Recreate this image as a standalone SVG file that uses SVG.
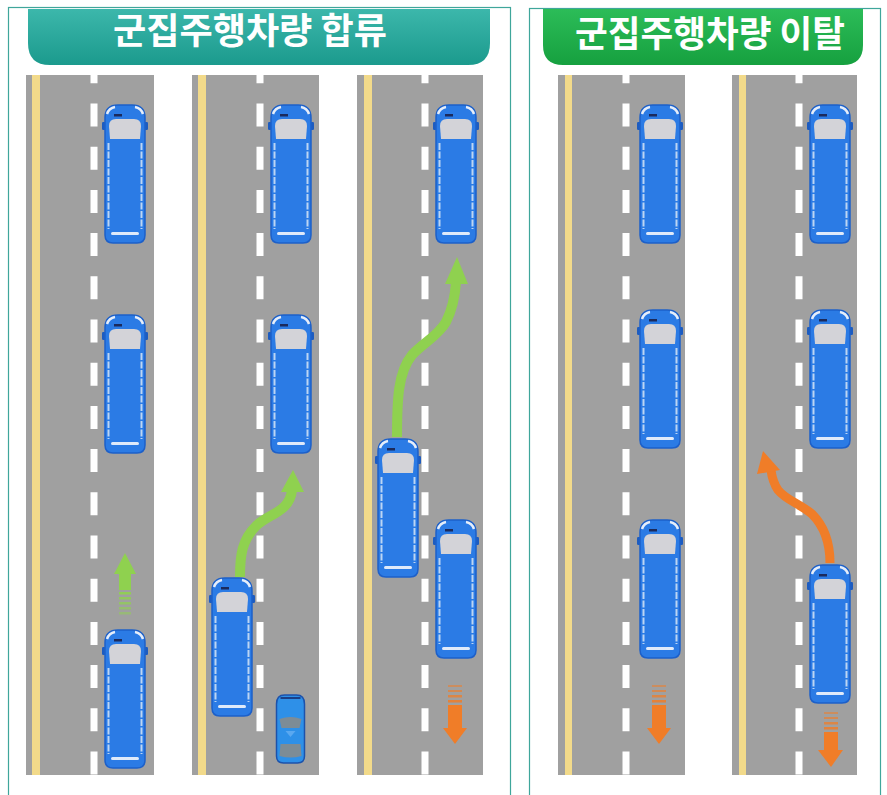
<svg xmlns="http://www.w3.org/2000/svg" xmlns:xlink="http://www.w3.org/1999/xlink" width="887" height="795" viewBox="0 0 887 795">
  <style>
    .frame { fill: none; stroke: #3fa69b; stroke-width: 1.2; }
    .road { fill: #a0a0a0; }
    .yellow { fill: #f2da8a; }
    .dash { stroke: #ffffff; stroke-width: 7; stroke-dasharray: 23 20.2; stroke-dashoffset: 14.7; }
    .title { font-family: "Noto Sans CJK KR", "Noto Sans", sans-serif; font-weight: bold; font-size: 36px; fill: #ffffff; text-anchor: middle; }
    .go { fill: none; stroke: #8fd14f; stroke-width: 10; stroke-linecap: butt; }
    .go-head { fill: #8fd14f; }
    .out { fill: none; stroke: #f07d28; stroke-width: 9; stroke-linecap: butt; }
    .out-head { fill: #f07d28; }
  </style>
  <defs>
    <linearGradient id="tealBanner" x1="0" y1="0" x2="0" y2="1">
      <stop offset="0" stop-color="#3cb7ab"/>
      <stop offset="1" stop-color="#1b9a8d"/>
    </linearGradient>
    <linearGradient id="greenBanner" x1="0" y1="0" x2="0" y2="1">
      <stop offset="0" stop-color="#2cbc58"/>
      <stop offset="1" stop-color="#16a03f"/>
    </linearGradient>
    <!-- bus seen from above, front at the top; origin = top centre -->
    <g id="bus">
      <rect x="-23" y="17" width="3.5" height="8" rx="1.2" fill="#1d5cc0"/>
      <rect x="19.5" y="17" width="3.5" height="8" rx="1.2" fill="#1d5cc0"/>
      <path d="M-20,13 Q-20,0 -7,0 L7,0 Q20,0 20,13 L20,130 Q20,138 12,138 L-12,138 Q-20,138 -20,130 Z" fill="#2b7be5" stroke="#1d60c9" stroke-width="1.5"/>
      <path d="M-18,9 Q-16,3 -10,2" fill="none" stroke="#e6eefa" stroke-width="2.5"/>
      <path d="M18,9 Q16,3 10,2" fill="none" stroke="#e6eefa" stroke-width="2.5"/>
      <rect x="-11" y="9" width="8" height="2.5" fill="#1b2a5c"/>
      <path d="M-16,21 Q-16,14 -9,14 L9,14 Q16,14 16,21 L15,34 L-15,34 Z" fill="#d3d3d8"/>
      <line x1="-16.5" y1="38" x2="-16.5" y2="124" stroke="#bcd5f4" stroke-width="2" stroke-dasharray="7 1.5"/>
      <line x1="16.5" y1="38" x2="16.5" y2="124" stroke="#bcd5f4" stroke-width="2" stroke-dasharray="7 1.5"/>
      <rect x="-14" y="127" width="28" height="3" rx="1.5" fill="#dfeafa"/>
    </g>
  </defs>

  <!-- panel frames -->
  <rect class="frame" x="8.5" y="7.5" width="502" height="800"/>
  <rect class="frame" x="529.5" y="8.5" width="351" height="800"/>

  <!-- title banners -->
  <g id="banner-merge">
    <path d="M28,9 L490,9 L490,43 Q490,65 468,65 L50,65 Q28,65 28,43 Z" fill="url(#tealBanner)"/>
    <text class="title" x="250" y="44" textLength="274" lengthAdjust="spacingAndGlyphs">군집주행차량 합류</text>
  </g>
  <g id="banner-leave">
    <path d="M543,9 L863,9 L863,45 Q863,65 843,65 L563,65 Q543,65 543,45 Z" fill="url(#greenBanner)"/>
    <text class="title" x="710" y="47" textLength="270" lengthAdjust="spacingAndGlyphs">군집주행차량 이탈</text>
  </g>

  <!-- roads -->
  <g id="roads">
    <rect class="road" x="26" y="75" width="128" height="700"/>
    <rect class="yellow" x="32" y="75" width="8" height="700"/>
    <line class="dash" x1="94" y1="75" x2="94" y2="775"/>

    <rect class="road" x="192" y="75" width="127" height="700"/>
    <rect class="yellow" x="198" y="75" width="8" height="700"/>
    <line class="dash" x1="260" y1="75" x2="260" y2="775"/>

    <rect class="road" x="357" y="75" width="126" height="700"/>
    <rect class="yellow" x="364" y="75" width="8" height="700"/>
    <line class="dash" x1="425" y1="75" x2="425" y2="775"/>

    <rect class="road" x="558" y="75" width="127" height="700"/>
    <rect class="yellow" x="565" y="75" width="7" height="700"/>
    <line class="dash" x1="626" y1="75" x2="626" y2="775"/>

    <rect class="road" x="732" y="75" width="125" height="700"/>
    <rect class="yellow" x="739" y="75" width="7" height="700"/>
    <line class="dash" x1="799" y1="75" x2="799" y2="775"/>
  </g>

  <!-- vehicles -->
  <g id="vehicles">
    <use xlink:href="#bus" x="125" y="105"/>
    <use xlink:href="#bus" x="125" y="315"/>
    <use xlink:href="#bus" x="125" y="630"/>

    <use xlink:href="#bus" x="291" y="105"/>
    <use xlink:href="#bus" x="291" y="315"/>
    <use xlink:href="#bus" x="232" y="578"/>

    <use xlink:href="#bus" x="456" y="105"/>
    <use xlink:href="#bus" x="398" y="439"/>
    <use xlink:href="#bus" x="456" y="520"/>

    <use xlink:href="#bus" x="660" y="105"/>
    <use xlink:href="#bus" x="660" y="310"/>
    <use xlink:href="#bus" x="660" y="520"/>

    <use xlink:href="#bus" x="830" y="105"/>
    <use xlink:href="#bus" x="830" y="310"/>
    <use xlink:href="#bus" x="830" y="565"/>

    <!-- passenger car joining the platoon -->
    <g id="car" transform="translate(290.5,695)">
      <path d="M-14,9 Q-14,0 -6,0 L6,0 Q14,0 14,9 L14,61 Q14,68 7,68 L-7,68 Q-14,68 -14,61 Z" fill="#2e90e8" stroke="#1c52ab" stroke-width="1.5"/>
      <path d="M-10,3 L10,3" stroke="#1c3f86" stroke-width="2"/>
      <path d="M-11,24 Q0,20 11,24 L9,33 L-9,33 Z" fill="#7d8c96"/>
      <path d="M-5,36 L5,36 L0,42 Z" fill="#5aa8f0"/>
      <path d="M-10,49 L10,49 L11,61 Q0,64 -11,61 Z" fill="#7d8c96"/>
    </g>
  </g>

  <!-- connectors: movement arrows -->
  <g id="connectors">
    <!-- platoon moving forward -->
    <g id="arrow-forward">
      <rect class="go-head" x="119" y="572" width="12" height="18"/>
      <polygon class="go-head" points="114,574 125,553 136,574"/>
      <rect class="go-head" x="119" y="592" width="12" height="2.5" opacity="0.9"/>
      <rect class="go-head" x="119" y="597" width="12" height="2.5" opacity="0.8"/>
      <rect class="go-head" x="119" y="602" width="12" height="2.5" opacity="0.7"/>
      <rect class="go-head" x="119" y="607" width="12" height="2.5" opacity="0.6"/>
      <rect class="go-head" x="119" y="612" width="12" height="2.5" opacity="0.5"/>
    </g>

    <!-- lane change into the platoon -->
    <path class="go" d="M240,577 C240,555 242,540 256,526 C268,514 290,512 292,490"/>
    <polygon class="go-head" points="281,492 293,470 304,492"/>

    <path class="go" d="M397,437 C397,400 398,372 412,355 C424,342 438,336 446,322 C452,310 455,298 456,282"/>
    <polygon class="go-head" points="445,284 457,257 468,284"/>

    <!-- vehicles falling back -->
    <g id="arrow-back-3">
      <rect class="out-head" x="448" y="685" width="14" height="2" opacity="0.55"/>
      <rect class="out-head" x="448" y="690" width="14" height="2" opacity="0.65"/>
      <rect class="out-head" x="448" y="695" width="14" height="2.5" opacity="0.75"/>
      <rect class="out-head" x="448" y="700" width="14" height="2.5" opacity="0.85"/>
      <rect class="out-head" x="448" y="705" width="14" height="25"/>
      <polygon class="out-head" points="443,728 467,728 455,744"/>
    </g>
    <g id="arrow-back-4">
      <rect class="out-head" x="652" y="685" width="14" height="2" opacity="0.55"/>
      <rect class="out-head" x="652" y="690" width="14" height="2" opacity="0.65"/>
      <rect class="out-head" x="652" y="695" width="14" height="2.5" opacity="0.75"/>
      <rect class="out-head" x="652" y="700" width="14" height="2.5" opacity="0.85"/>
      <rect class="out-head" x="652" y="705" width="14" height="25"/>
      <polygon class="out-head" points="647,728 671,728 659,744"/>
    </g>
    <g id="arrow-back-5">
      <rect class="out-head" x="824" y="712" width="14" height="2" opacity="0.55"/>
      <rect class="out-head" x="824" y="717" width="14" height="2" opacity="0.65"/>
      <rect class="out-head" x="824" y="722" width="14" height="2.5" opacity="0.75"/>
      <rect class="out-head" x="824" y="727" width="14" height="2.5" opacity="0.85"/>
      <rect class="out-head" x="824" y="732" width="14" height="19"/>
      <polygon class="out-head" points="818,750 843,750 831,767"/>
    </g>

    <!-- lane change out of the platoon -->
    <path class="out" d="M830,563 C830,545 826,528 812,514 C800,504 786,500 778,490 C774,484 772,478 771,470"/>
    <polygon class="out-head" points="757,474 763,451 780,470"/>
  </g>
</svg>
